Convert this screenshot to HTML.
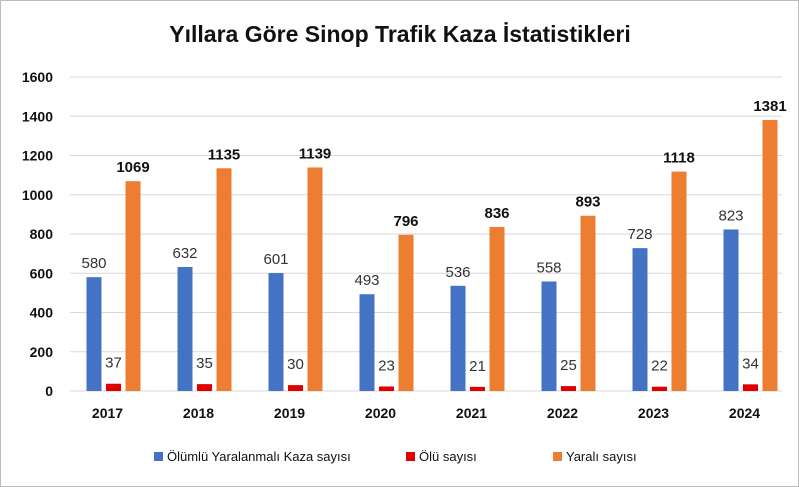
<!DOCTYPE html>
<html><head><meta charset="utf-8"><style>
body{margin:0;background:#fff;}
svg{display:block;font-family:"Liberation Sans",sans-serif;}
</style></head><body>
<svg id="c" width="799" height="487" viewBox="0 0 799 487">
<rect x="0.5" y="0.5" width="798" height="486" fill="#fff" stroke="#bbb"/>
<text x="400" y="42" text-anchor="middle" font-size="23" font-weight="bold" fill="#111">Yıllara Göre Sinop Trafik Kaza İstatistikleri</text>
<g id="grid"></g><g id="bars"></g><g id="labels"></g>
<g>
<rect x="154" y="452" width="9" height="9" fill="#4472C4"/>
<text x="167" y="461" font-size="13" fill="#111">Ölümlü Yaralanmalı Kaza sayısı</text>
<rect x="406" y="452" width="9" height="9" fill="#E00000"/>
<text x="419" y="461" font-size="13" fill="#111">Ölü sayısı</text>
<rect x="553" y="452" width="9" height="9" fill="#ED7D31"/>
<text x="566" y="461" font-size="13" fill="#111">Yaralı sayısı</text>
</g>
</svg>
<script>
const years=["2017","2018","2019","2020","2021","2022","2023","2024"];
const accidents=[580,632,601,493,536,558,728,823];
const deaths=[37,35,30,23,21,25,22,34];
const injured=[1069,1135,1139,796,836,893,1118,1381];
const ticks=[0,200,400,600,800,1000,1200,1400,1600];
const NS="http://www.w3.org/2000/svg";
const y=v=>391-v*(314/1600);
const x=i=>113.5+i*91;
function mk(t,a,p){const e=document.createElementNS(NS,t);for(const k in a)e.setAttribute(k,a[k]);p.appendChild(e);return e;}
const G=document.getElementById('grid'),B=document.getElementById('bars'),L=document.getElementById('labels');
ticks.forEach(t=>{
 const l=mk('line',{x1:70,x2:782,y1:y(t),y2:y(t),stroke:'#d9d9d9','stroke-width':1},G);
 
 
 const tx=mk('text',{x:53,y:y(t)+5,'text-anchor':'end','font-size':14,'font-weight':'bold',fill:'#111'},G);
 tx.textContent=t;
 
 
});
const series=[[accidents,'#4472C4',-19.5,'normal','#333'],[deaths,'#E00000',0,'normal','#333'],[injured,'#ED7D31',19.5,'bold','#111']];
years.forEach((yr,i)=>{
 series.forEach((s,k)=>{
  const v=s[0][i],cx=x(i)+s[2];
  const r=mk('rect',{x:cx-7.5,y:y(v),width:15,height:391-y(v),fill:s[1]},B);
  
  
  const t=mk('text',{x:cx,y:y(v)-(k==1?12:9),'text-anchor':'middle','font-size':(k==2?15:15),'font-weight':s[3],fill:s[4]},L);
  if(k==1)t.setAttribute('y',y(v)-16);
  t.textContent=v;
  
  
 });
 const xl=mk('text',{x:x(i)-6,y:418,'text-anchor':'middle','font-size':14,'font-weight':'bold',fill:'#111'},L);
 xl.textContent=yr;
 
 
});
</script>
</body></html>
